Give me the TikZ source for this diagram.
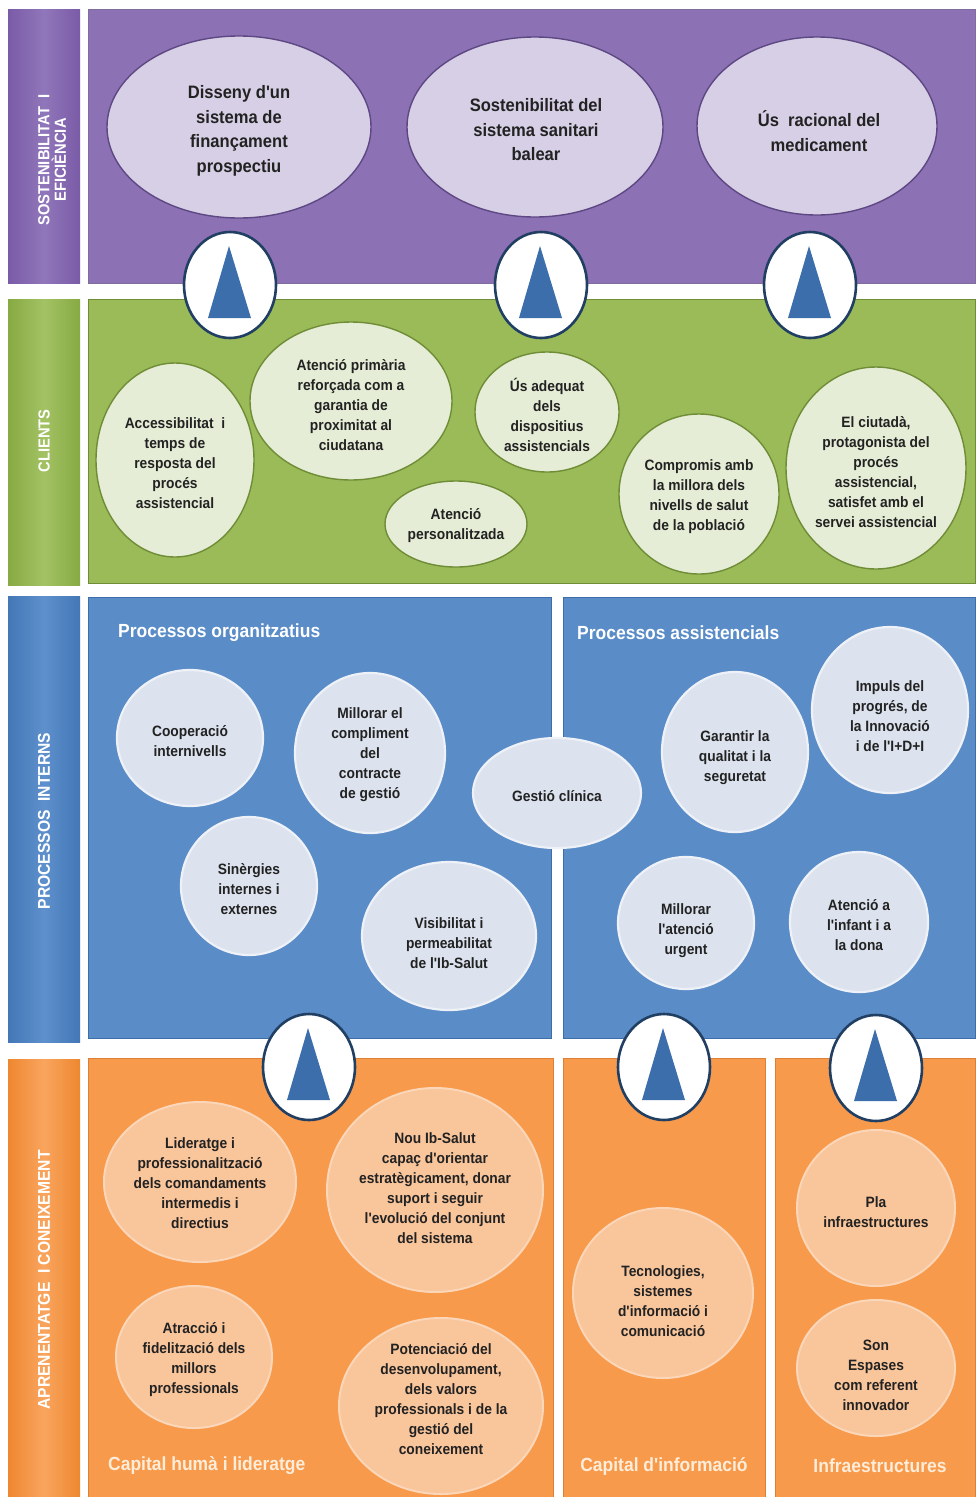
\documentclass[tikz,border=0pt]{standalone}
\usepackage{fontspec}
\setmainfont{Liberation Sans}[FakeStretch=0.92, Ligatures=TeXOff]
\usetikzlibrary{shapes.geometric,calc}
\definecolor{purpBar}{HTML}{7A5BA7}
\definecolor{purpBarL}{HTML}{9076BA}
\definecolor{purpPanel}{HTML}{8C71B4}
\definecolor{purpEdge}{HTML}{5E4884}
\definecolor{purpFill}{HTML}{D7CFE5}
\definecolor{grBar}{HTML}{87AA43}
\definecolor{grBarL}{HTML}{A3C264}
\definecolor{grPanel}{HTML}{9BBB59}
\definecolor{grEdge}{HTML}{6F8C36}
\definecolor{grFill}{HTML}{E5EDD6}
\definecolor{blBar}{HTML}{4377B6}
\definecolor{blBarL}{HTML}{5D90CC}
\definecolor{blPanel}{HTML}{5A8CC7}
\definecolor{blEdge}{HTML}{3E6EA9}
\definecolor{blFill}{HTML}{DCE3EE}
\definecolor{blRim}{HTML}{EEF2F8}
\definecolor{orBar}{HTML}{EE8730}
\definecolor{orBarL}{HTML}{F9A55E}
\definecolor{orPanel}{HTML}{F79A4B}
\definecolor{orEdge}{HTML}{DD7F36}
\definecolor{orFill}{HTML}{F9C59B}
\definecolor{orRim}{HTML}{FBD6B8}
\definecolor{triRim}{HTML}{213F63}
\definecolor{triFill}{HTML}{3B6EAA}
\definecolor{txtcol}{HTML}{222222}
\tikzset{
  lbar/.style={draw=none},
  bartext/.style={rotate=90, text=white, align=center, inner sep=0pt,
    font=\bfseries\fontsize{17}{18}\selectfont},
  pel/.style={ellipse, draw=purpEdge, line width=1.4pt, fill=purpFill, inner sep=0pt},
  gel/.style={ellipse, draw=grEdge, line width=1.4pt, fill=grFill, inner sep=0pt},
  bel/.style={ellipse, draw=blRim, line width=2.2pt, fill=blFill, inner sep=0pt},
  oel/.style={ellipse, draw=orRim, line width=2pt, fill=orFill, inner sep=0pt},
  ptxt/.style={align=center, text=txtcol, inner sep=0pt,
    font=\bfseries\fontsize{18}{24.5}\selectfont},
  stxt/.style={align=center, text=txtcol, inner sep=0pt,
    font=\bfseries\fontsize{15}{20}\selectfont},
  ttl/.style={text=white, inner sep=0pt, font=\bfseries\fontsize{19}{22}\selectfont},
  ottl/.style={text=white!85!orange, inner sep=0pt, font=\bfseries\fontsize{19}{22}\selectfont},
  tcirc/.style={ellipse, draw=triRim, line width=2.6pt, fill=white, inner sep=0pt,
    minimum width=92pt, minimum height=106pt},
  tri/.style={fill=triFill, draw=none},
}
\newcommand{\trimark}[1]{%
  \fill[tri] ($(#1)+(-1,-39)$) -- ($(#1)+(-22,33)$) -- ($(#1)+(21,33)$) -- cycle;}
\begin{document}
\begin{tikzpicture}[x=1pt,y=-1pt]
\useasboundingbox (0,0) rectangle (975,1497);
\fill[white] (0,0) rectangle (975,1497);

% ---------- left label bars ----------
\shade[left color=purpBar, right color=purpBar, middle color=purpBarL] (8,9) rectangle (80,283);
\shade[left color=grBar, right color=grBar, middle color=grBarL] (8,299) rectangle (80,585);
\shade[left color=blBar, right color=blBar, middle color=blBarL] (8,596) rectangle (80,1042);
\shade[left color=orBar, right color=orBar, middle color=orBarL] (8,1059) rectangle (80,1497);

\node[bartext, font=\bfseries\fontsize{16}{16.5}\selectfont] (lb1) at (52,160) {SOSTENIBILITAT~ I\\EFICIÈNCIA};
\node[bartext, font=\bfseries\fontsize{16}{18}\selectfont] (lb2) at (44,441) {CLIENTS};
\node[bartext] (lb3) at (44,821) {PROCESSOS~ INTERNS};
\node[bartext] (lb4) at (44,1280) {APRENENTATGE~ I CONEIXEMENT};

% ---------- panels ----------
\filldraw[fill=purpPanel, draw=purpEdge!80, line width=1pt] (88,9) rectangle (975,283);
\filldraw[fill=grPanel, draw=grEdge, line width=1pt] (88,299) rectangle (975,583);
\filldraw[fill=blPanel, draw=blEdge, line width=1pt] (88,597) rectangle (551,1038);
\filldraw[fill=blPanel, draw=blEdge, line width=1pt] (563,597) rectangle (975,1038);
\filldraw[fill=orPanel, draw=orEdge, line width=1pt] (88,1058) rectangle (553,1497);
\filldraw[fill=orPanel, draw=orEdge, line width=1pt] (563,1058) rectangle (765,1497);
\filldraw[fill=orPanel, draw=orEdge, line width=1pt] (775,1058) rectangle (975,1497);

% ---------- sostenibilitat ----------
\node[pel, minimum width=264pt, minimum height=182pt] (e1) at (239,127) {};
\node[ptxt] (e1t) at (239,131) {Disseny d'un\\sistema de\\finançament\\prospectiu};
\node[pel, minimum width=256pt, minimum height=180pt] (e2) at (535,127) {};
\node[ptxt] (e2t) at (536,130) {Sostenibilitat del\\sistema sanitari\\balear};
\node[pel, minimum width=240pt, minimum height=178pt] (e3) at (817,126) {};
\node[ptxt] (e3t) at (819,131) {Ús~ racional del\\medicament};

% ---------- clients ----------
\node[gel, minimum width=158pt, minimum height=194pt] (g1) at (175,460) {};
\node[stxt] (g1t) at (175,463) {Accessibilitat~ i\\temps de\\resposta del\\procés\\assistencial};
\node[gel, minimum width=202pt, minimum height=158pt] (g2) at (351,401) {};
\node[stxt] (g2t) at (351,405) {Atenció primària\\reforçada com a\\garantia de\\proximitat al\\ciudatana};
\node[gel, minimum width=142pt, minimum height=86pt] (g3) at (456,524) {};
\node[stxt] (g3t) at (456,526) {Atenció\\personalitzada};
\node[gel, minimum width=144pt, minimum height=120pt] (g4) at (547,412) {};
\node[stxt] (g4t) at (547,415) {Ús adequat\\dels\\dispositius\\assistencials};
\node[gel, minimum width=160pt, minimum height=160pt] (g5) at (699,494) {};
\node[stxt] (g5t) at (699,497) {Compromis amb\\la millora dels\\nivells de salut\\de la població};
\node[gel, minimum width=180pt, minimum height=202pt] (g6) at (876,468) {};
\node[stxt] (g6t) at (876,472) {El ciutadà,\\protagonista del\\procés\\assistencial,\\satisfet amb el\\servei assistencial};

% ---------- processos interns ----------
\node[ttl, anchor=west] (pt1) at (118,633) {Processos organitzatius};
\node[ttl, anchor=west] (pt2) at (577,633) {Processos assistencials};

\node[bel, minimum width=146pt, minimum height=136pt] (b1) at (190,738) {};
\node[stxt] (b1t) at (190,741) {Cooperació\\internivells};
\node[bel, minimum width=150pt, minimum height=160pt] (b2) at (370,753) {};
\node[stxt] (b2t) at (370,755) {Millorar el\\compliment\\del\\contracte\\de gestió};
\node[bel, minimum width=136pt, minimum height=138pt] (b3) at (249,886) {};
\node[stxt] (b3t) at (249,889) {Sinèrgies\\internes i\\externes};
\node[bel, minimum width=174pt, minimum height=148pt] (b4) at (449,936) {};
\node[stxt] (b4t) at (449,943) {Visibilitat i\\permeabilitat\\de l'Ib-Salut};
\node[bel, minimum width=168pt, minimum height=110pt] (b5) at (557,793) {};
\node[stxt] (b5t) at (557,796) {Gestió clínica};
\node[bel, minimum width=146pt, minimum height=160pt] (b6) at (735,752) {};
\node[stxt] (b6t) at (735,758) {Garantir la\\qualitat i la\\seguretat};
\node[bel, minimum width=156pt, minimum height=166pt] (b7) at (890,710) {};
\node[stxt] (b7t) at (890,716) {Impuls del\\progrés, de\\la Innovació\\i de l'I+D+I};
\node[bel, minimum width=136pt, minimum height=132pt] (b8) at (686,923) {};
\node[stxt] (b8t) at (686,931) {Millorar\\l'atenció\\urgent};
\node[bel, minimum width=138pt, minimum height=140pt] (b9) at (859,922) {};
\node[stxt] (b9t) at (859,925) {Atenció a\\l'infant i a\\la dona};

% ---------- aprenentatge ----------
\node[oel, minimum width=192pt, minimum height=160pt] (o1) at (200,1182) {};
\node[stxt] (o1t) at (200,1183) {Lideratge i\\professionalització\\dels comandaments\\intermedis i\\directius};
\node[oel, minimum width=216pt, minimum height=204pt] (o2) at (435,1190) {};
\node[stxt] (o2t) at (435,1188) {Nou Ib-Salut\\capaç d'orientar\\estratègicament, donar\\suport i seguir\\l'evolució del conjunt\\del sistema};
\node[oel, minimum width=156pt, minimum height=142pt] (o3) at (194,1357) {};
\node[stxt] (o3t) at (194,1360) {Atracció i\\fidelització dels\\millors\\professionals};
\node[oel, minimum width=204pt, minimum height=176pt] (o4) at (441,1406) {};
\node[stxt] (o4t) at (441,1399) {Potenciació del\\desenvolupament,\\dels valors\\professionals i de la\\gestió del\\coneixement};
\node[oel, minimum width=180pt, minimum height=170pt] (o5) at (663,1293) {};
\node[stxt] (o5t) at (663,1301) {Tecnologies,\\sistemes\\d'informació i\\comunicació};
\node[oel, minimum width=158pt, minimum height=156pt] (o6) at (876,1208) {};
\node[stxt] (o6t) at (876,1212) {Pla\\infraestructures};
\node[oel, minimum width=158pt, minimum height=136pt] (o7) at (876,1368) {};
\node[stxt] (o7t) at (876,1375) {Son\\Espases\\com referent\\innovador};

\node[ottl, anchor=west] (ot1) at (108,1466) {Capital humà i lideratge};
\node[ottl] (ot2) at (664,1466) {Capital d'informació};
\node[ottl] (ot3) at (880,1466) {Infraestructures};

% ---------- triangle connectors ----------
\node[tcirc] (t1) at (230,285) {};
\node[tcirc] (t2) at (541,285) {};
\node[tcirc] (t3) at (810,285) {};
\node[tcirc] (t4) at (309,1067) {};
\node[tcirc] (t5) at (664,1067) {};
\node[tcirc] (t6) at (876,1068) {};
\trimark{t1}\trimark{t2}\trimark{t3}\trimark{t4}\trimark{t5}\trimark{t6}
\end{tikzpicture}
\end{document}
